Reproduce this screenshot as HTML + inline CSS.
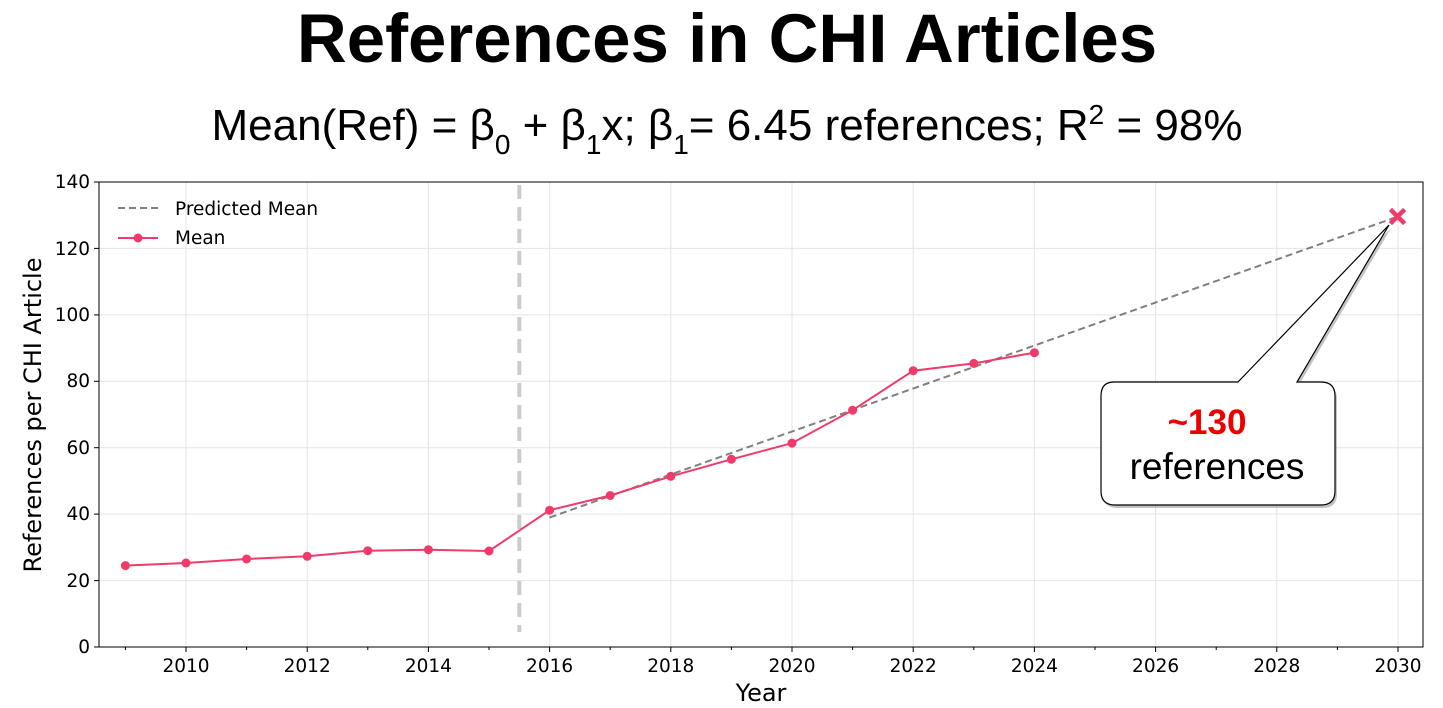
<!DOCTYPE html>
<html><head><meta charset="utf-8"><style>
body{margin:0;background:#fff;}
svg{display:block;}
</style></head><body>
<svg width="1443" height="708" xmlns="http://www.w3.org/2000/svg">
<text x="727" y="62" text-anchor="middle" font-family="Liberation Sans, Arial, sans-serif" font-weight="bold" font-size="69">References in CHI Articles</text>
<text x="727" y="140" text-anchor="middle" font-family="Liberation Sans, Arial, sans-serif" font-size="44">Mean(Ref) = β<tspan font-size="28" dy="14">0</tspan><tspan dy="-14"> + β</tspan><tspan font-size="28" dy="14">1</tspan><tspan dy="-14">x; β</tspan><tspan font-size="28" dy="14">1</tspan><tspan dy="-14">= 6.45 references; R</tspan><tspan font-size="28" dy="-16">2</tspan><tspan dy="16"> = 98%</tspan></text>
<g stroke="#e4e4e4" stroke-width="1">
<line x1="186" y1="182" x2="186" y2="647"/><line x1="307.2" y1="182" x2="307.2" y2="647"/><line x1="428.4" y1="182" x2="428.4" y2="647"/><line x1="549.6" y1="182" x2="549.6" y2="647"/><line x1="670.8" y1="182" x2="670.8" y2="647"/><line x1="792" y1="182" x2="792" y2="647"/><line x1="913.2" y1="182" x2="913.2" y2="647"/><line x1="1034.4" y1="182" x2="1034.4" y2="647"/><line x1="1155.6" y1="182" x2="1155.6" y2="647"/><line x1="1276.8" y1="182" x2="1276.8" y2="647"/><line x1="1398" y1="182" x2="1398" y2="647"/>
<line x1="99" y1="580.6" x2="1423" y2="580.6"/><line x1="99" y1="514.1" x2="1423" y2="514.1"/><line x1="99" y1="447.7" x2="1423" y2="447.7"/><line x1="99" y1="381.3" x2="1423" y2="381.3"/><line x1="99" y1="314.9" x2="1423" y2="314.9"/><line x1="99" y1="248.4" x2="1423" y2="248.4"/>
</g>
<line x1="519.3" y1="185" x2="519.3" y2="632" stroke="#cccccc" stroke-width="4" stroke-dasharray="14,8"/>
<line x1="549.6" y1="517.5" x2="1398" y2="216.5" stroke="#808080" stroke-width="2" stroke-dasharray="7,4"/>
<polyline fill="none" stroke="#f03a6a" stroke-width="2" points="125.4,565.6 186,563 246.6,559 307.2,556.3 367.8,550.7 428.4,549.7 489,551 549.6,510.2 610.2,495.5 670.8,476.3 731.4,459.3 792,443.1 852.6,410.2 913.2,370.7 973.8,363.4 1034.4,352.7"/>
<g fill="#f03a6a">
<circle cx="125.4" cy="565.6" r="4.5"/><circle cx="186" cy="563" r="4.5"/><circle cx="246.6" cy="559" r="4.5"/><circle cx="307.2" cy="556.3" r="4.5"/><circle cx="367.8" cy="550.7" r="4.5"/><circle cx="428.4" cy="549.7" r="4.5"/><circle cx="489" cy="551" r="4.5"/><circle cx="549.6" cy="510.2" r="4.5"/><circle cx="610.2" cy="495.5" r="4.5"/><circle cx="670.8" cy="476.3" r="4.5"/><circle cx="731.4" cy="459.3" r="4.5"/><circle cx="792" cy="443.1" r="4.5"/><circle cx="852.6" cy="410.2" r="4.5"/><circle cx="913.2" cy="370.7" r="4.5"/><circle cx="973.8" cy="363.4" r="4.5"/><circle cx="1034.4" cy="352.7" r="4.5"/>
</g>
<g stroke="#f03a6a" stroke-width="4.5" stroke-linecap="square"><line x1="1392" y1="211" x2="1403" y2="222"/><line x1="1403" y1="211" x2="1392" y2="222"/></g>
<rect x="99" y="182" width="1324" height="465" fill="none" stroke="#000" stroke-width="1"/>
<g stroke="#000" stroke-width="1">
<line x1="94" y1="647" x2="99" y2="647"/><line x1="94" y1="580.6" x2="99" y2="580.6"/><line x1="94" y1="514.1" x2="99" y2="514.1"/><line x1="94" y1="447.7" x2="99" y2="447.7"/><line x1="94" y1="381.3" x2="99" y2="381.3"/><line x1="94" y1="314.9" x2="99" y2="314.9"/><line x1="94" y1="248.4" x2="99" y2="248.4"/><line x1="94" y1="182" x2="99" y2="182"/>
<line x1="186" y1="647" x2="186" y2="652"/><line x1="307.2" y1="647" x2="307.2" y2="652"/><line x1="428.4" y1="647" x2="428.4" y2="652"/><line x1="549.6" y1="647" x2="549.6" y2="652"/><line x1="670.8" y1="647" x2="670.8" y2="652"/><line x1="792" y1="647" x2="792" y2="652"/><line x1="913.2" y1="647" x2="913.2" y2="652"/><line x1="1034.4" y1="647" x2="1034.4" y2="652"/><line x1="1155.6" y1="647" x2="1155.6" y2="652"/><line x1="1276.8" y1="647" x2="1276.8" y2="652"/><line x1="1398" y1="647" x2="1398" y2="652"/>
<line x1="125.4" y1="647" x2="125.4" y2="650"/><line x1="246.6" y1="647" x2="246.6" y2="650"/><line x1="367.8" y1="647" x2="367.8" y2="650"/><line x1="489" y1="647" x2="489" y2="650"/><line x1="610.2" y1="647" x2="610.2" y2="650"/><line x1="731.4" y1="647" x2="731.4" y2="650"/><line x1="852.6" y1="647" x2="852.6" y2="650"/><line x1="973.8" y1="647" x2="973.8" y2="650"/><line x1="1095" y1="647" x2="1095" y2="650"/><line x1="1216.2" y1="647" x2="1216.2" y2="650"/><line x1="1337.4" y1="647" x2="1337.4" y2="650"/>
</g>
<g font-family="DejaVu Sans, sans-serif" font-size="18.5" fill="#000" text-anchor="end">
<text x="90" y="653">0</text><text x="90" y="587">20</text><text x="90" y="520">40</text><text x="90" y="454">60</text><text x="90" y="387">80</text><text x="90" y="321">100</text><text x="90" y="255">120</text><text x="90" y="188">140</text>
</g>
<g font-family="DejaVu Sans, sans-serif" font-size="18.5" fill="#000" text-anchor="middle">
<text x="186" y="672">2010</text><text x="307.2" y="672">2012</text><text x="428.4" y="672">2014</text><text x="549.6" y="672">2016</text><text x="670.8" y="672">2018</text><text x="792" y="672">2020</text><text x="913.2" y="672">2022</text><text x="1034.4" y="672">2024</text><text x="1155.6" y="672">2026</text><text x="1276.8" y="672">2028</text><text x="1398" y="672">2030</text>
<text x="761" y="701" font-size="24">Year</text>
<text transform="translate(41,415) rotate(-90)" font-size="24">References per CHI Article</text>
</g>
<line x1="118" y1="208" x2="158" y2="208" stroke="#808080" stroke-width="2" stroke-dasharray="7,4"/>
<line x1="118" y1="238" x2="158" y2="238" stroke="#f03a6a" stroke-width="2"/>
<circle cx="138" cy="238" r="4.5" fill="#f03a6a"/>
<g font-family="DejaVu Sans, sans-serif" font-size="18.5" fill="#000">
<text x="175" y="215">Predicted Mean</text><text x="175" y="244">Mean</text>
</g>
<path d="M1114,382 L1238,382 L1389,225 L1297,382 L1321,382 Q1335,382 1335,396 L1335,491 Q1335,505 1321,505 L1115,505 Q1101,505 1101,491 L1101,396 Q1101,382 1114,382 Z" fill="#888" opacity="0.5" transform="translate(2,3)"/>
<path d="M1114,382 L1238,382 L1389,225 L1297,382 L1321,382 Q1335,382 1335,396 L1335,491 Q1335,505 1321,505 L1115,505 Q1101,505 1101,491 L1101,396 Q1101,382 1114,382 Z" fill="#fff" stroke="#000" stroke-width="1.2"/>
<text x="1207" y="434" text-anchor="middle" font-family="Liberation Sans, Arial, sans-serif" font-weight="bold" font-size="35" fill="#ee0000">~130</text>
<text x="1217" y="479" text-anchor="middle" font-family="Liberation Sans, Arial, sans-serif" font-size="37" fill="#000">references</text>
</svg>
</body></html>
